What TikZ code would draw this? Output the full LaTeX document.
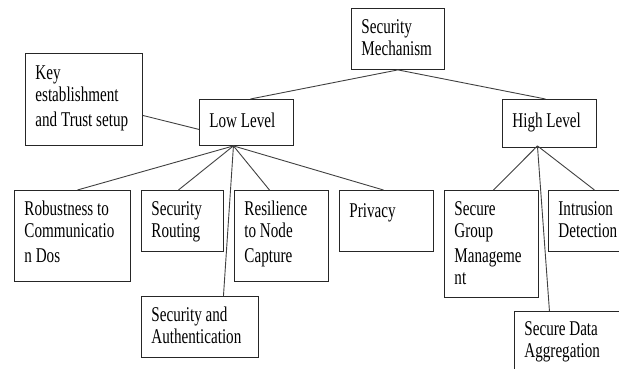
\documentclass[tikz,border=0pt]{standalone}
\usepackage{fontspec}
\setmainfont{Liberation Serif}[FakeStretch=0.72]
\usepackage{tikz}

\newcommand{\boxtext}[4][25pt]{\parbox[t][#3][t]{#2}{\rule{0pt}{#1}#4}}

\tikzset{
  mbox/.style={draw=black!85, line width=0.9pt, anchor=north west, inner xsep=10pt, inner ysep=0pt, font=\fontsize{21}{22}\selectfont},
  link/.style={line width=0.9pt, draw=black!75}
}

\begin{document}
\begin{tikzpicture}[x=1pt, y=-1pt]
      \useasboundingbox (0, 0) rectangle (619, 369);
      \clip (0, 0) rectangle (619, 369);
      \node[mbox] (mech) at (351, 8) {\boxtext{73pt}{61pt}{Security\\Mechanism}};
      \node[mbox] (low) at (199, 99) {\boxtext[28pt]{74pt}{46pt}{Low Level}};
      \node[mbox] (high) at (502, 99) {\boxtext[28pt]{74pt}{48pt}{High Level}};
      \node[mbox] (key) at (25, 53) {\boxtext[26pt]{97pt}{92pt}{Key\\establishment\\[3pt]and Trust setup}};
      \node[mbox] (rob) at (14, 190) {\boxtext{96pt}{91pt}{Robustness to\\Communicatio\\[3pt]n Dos}};
      \node[mbox] (rout) at (141, 190) {\boxtext{62pt}{61pt}{Security\\Routing}};
      \node[mbox] (res) at (234, 190) {\boxtext{74pt}{91pt}{Resilience\\to Node\\[3pt]Capture}};
      \node[mbox] (auth) at (141, 296) {\boxtext{97pt}{61pt}{Security and\\Authentication}};
      \node[mbox] (priv) at (339, 190) {\boxtext[27pt]{74pt}{61pt}{Privacy}};
      \node[mbox] (grp) at (444, 190) {\boxtext{74pt}{107pt}{Secure\\Group\\[3pt]Manageme\\nt}};
      \node[mbox] (intr) at (548, 190) {\boxtext{74pt}{61pt}{Intrusion\\Detection}};
      \node[mbox] (agg) at (514, 311) {\boxtext[24pt]{97pt}{61pt}{Secure Data\\Aggregation}};

      \coordinate (lowhub) at ([xshift=-13pt]low.south);
      \coordinate (highhub) at ([xshift=-12pt, yshift=2pt]high.south);

      \draw[link] (mech.south) -- ([xshift=4pt]low.north);
      \draw[link] (mech.south) -- ([xshift=-4pt]high.north);
      \draw[link] ([yshift=-16pt]key.east) -- ([yshift=-7pt]low.west);
      \draw[link] (lowhub) -- ([xshift=5pt]rob.north);
      \draw[link] (lowhub) -- ([xshift=-4pt]rout.north);
      \draw[link] (lowhub) -- ([xshift=23.5pt]auth.north);
      \draw[link] (lowhub) -- ([xshift=-12pt]res.north);
      \draw[link] (lowhub) -- ([xshift=-3pt]priv.north);
      \draw[link] (highhub) -- ([xshift=2pt]grp.north);
      \draw[link] (highhub) -- ([xshift=-23.5pt]agg.north);
      \draw[link] (highhub) -- ([xshift=-1pt]intr.north);
    \end{tikzpicture}
\end{document}
